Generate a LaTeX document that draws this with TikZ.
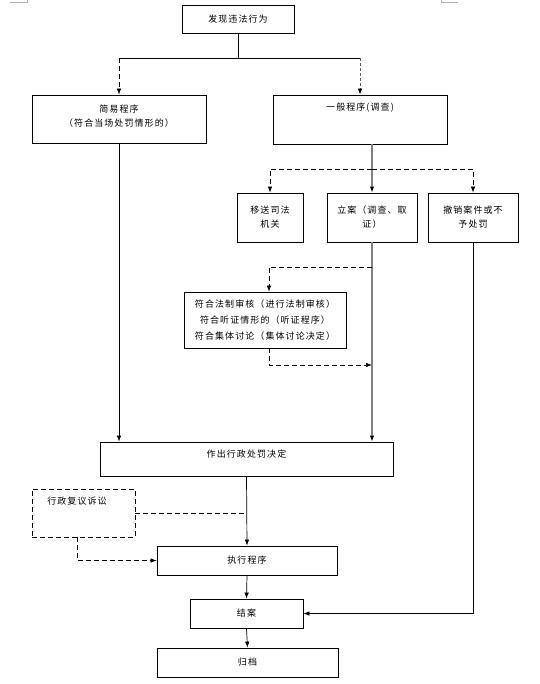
\documentclass[tikz,border=0pt]{standalone}
\usepackage{fontspec}
\newfontfamily\cjk[LetterSpace=12]{Noto Sans CJK SC}
\usetikzlibrary{positioning, arrows.meta}

\tikzset{
    box/.style={draw, line width=0.8pt, inner sep=0pt, font=\cjk\fontsize{9}{14}\selectfont, align=center},
    dashbox/.style={box, dash pattern=on 5pt off 3pt},
    txt/.style={inner sep=0pt, font=\cjk\fontsize{9}{14}\selectfont, align=center},
    dashline/.style={dash pattern=on 5pt off 3pt},
    mainline/.style={draw=black!50, line width=1.2pt},
}

\begin{document}
\begin{tikzpicture}[x=1pt, y=-1pt, >={Latex[length=6pt,width=4.5pt]}, line width=0.7pt]
        \useasboundingbox (0,0) rectangle (539,684);

        % page corner marks
        \draw[black!30, line width=0.5pt] (10,2) -- (27,2) -- (27,0);
        \draw[black!30, line width=0.5pt] (441,0) -- (441,2) -- (458,2);

        % boxes
        \node[box, minimum width=112pt, minimum height=28pt] (find) at (238,19) {发现违法行为};
        \node[box, minimum width=174pt, minimum height=48pt] (simple) at (119,119) {};
        \node[txt] (simpleText) at (119,116) {简易程序\\（符合当场处罚情形的）};
        \node[box, minimum width=174pt, minimum height=49pt] (general) at (360,119.5) {};
        \node[txt] (generalText) at (360,108) {一般程序(调查)};

        \node[box, minimum width=66pt, minimum height=49pt] (transfer) at (270,217.5) {移送司法\\机关};
        \node[box, minimum width=90pt, minimum height=49pt] (case) at (372,217.5) {立案（调查、取\\证）};
        \node[box, minimum width=90pt, minimum height=49pt] (revoke) at (473,217.5) {撤销案件或不\\予处罚};

        \node[box, minimum width=162pt, minimum height=56pt, font=\cjk\fontsize{9}{16}\selectfont]
            (cond) at (265,320) {符合法制审核（进行法制审核）\\符合听证情形的（听证程序）\\符合集体讨论（集体讨论决定）};

        \node[box, minimum width=293pt, minimum height=34pt] (decide) at (246.5,459) {};
        \node[txt] (decideText) at (246.5,454) {作出行政处罚决定};
        \node[dashbox, minimum width=103pt, minimum height=48pt] (review) at (83.5,513) {};
        \node[txt] (reviewText) at (77,501) {行政复议诉讼};

        \node[box, minimum width=180pt, minimum height=29pt] (exec) at (247,560.5) {执行程序};
        \node[box, minimum width=113pt, minimum height=29pt] (close) at (246.5,613.5) {结案};
        \node[box, minimum width=181pt, minimum height=29pt] (archive) at (247.5,662.5) {归档};

        % split below the first box
        \coordinate (split) at (find.south |- 0,58);
        \coordinate (splitL) at (simple.north |- split);
        \coordinate (splitR) at (general.north |- split);
        \draw (find.south) -- (split);
        \draw (splitL) -- (splitR);
        \draw[->, dashline] (splitL) -- (simple.north);
        \draw[-{Latex[length=6pt,width=4.5pt,color=black]}, black!65, dash pattern=on 3pt off 2pt]
            (splitR) -- (general.north);

        % general procedure
        \coordinate (genTop) at (case.north |- general.south);
        \coordinate (fork) at (case.north |- 0,169);
        \draw[-{Latex[length=6pt,width=4.5pt,color=black]}, mainline] (genTop) -- (case.north);
        \draw[->, dashline] (fork) -| (transfer.north);
        \draw[->, dashline] (fork) -| (revoke.north);

        \coordinate (caseDown) at (case.south |- decide.north);
        \coordinate (condIn) at (case.south |- 0,267);
        \coordinate (condOut) at (case.south |- 0,365);
        \draw[-{Latex[length=6pt,width=4.5pt,color=black]}, mainline] (case.south) -- (caseDown);
        \draw[->, dashline] (condIn) -| ([xshift=4pt]cond.north);
        \draw[->, dashline] ([xshift=4pt]cond.south) |- (condOut);

        \draw[->] (simple.south) -- (simple.south |- decide.north);

        % execution and closing
        \draw[->] (decide.south) -- (exec.north);
        \draw[dashline] (review.east) -- (review.east -| decide.south);
        \draw[->, dashline] ([xshift=-6.5pt]review.south) |- (exec.west);
        \draw[->] (exec.south) -- (close.north);
        \draw[->] (revoke.south) |- (close.east);
        \draw[->] (close.south) -- (archive.north);
    \end{tikzpicture}
\end{document}
